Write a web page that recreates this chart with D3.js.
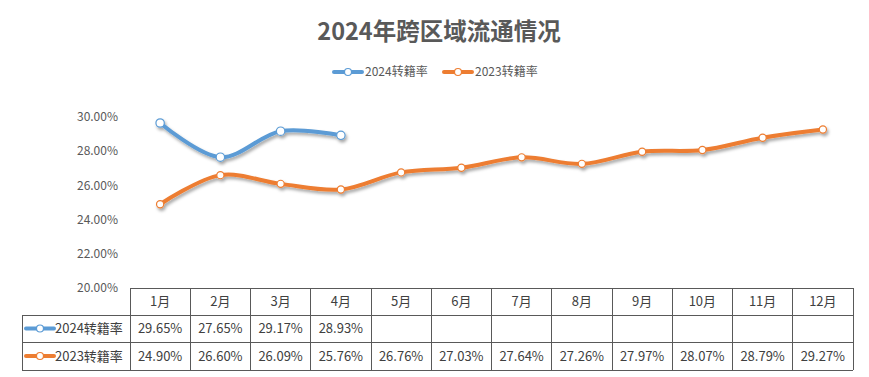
<!DOCTYPE html>
<html>
<head>
<meta charset="utf-8">
<script src="https://cdn.jsdelivr.net/npm/d3@7/dist/d3.min.js"></script>
<style>
  body { margin: 0; background: #fff; }
  svg { display: block; font-family: "Noto Sans CJK SC", "Microsoft YaHei", sans-serif; }
</style>
</head>
<body>
<div class="container"></div>
<script>
const WIDTH = 869;
const HEIGHT = 377;

var months = ['1月', '2月', '3月', '4月', '5月', '6月', '7月', '8月', '9月', '10月', '11月', '12月'];
var rate2024 = [29.65, 27.65, 29.17, 28.93];
var rate2023 = [24.90, 26.60, 26.09, 25.76, 26.76, 27.03, 27.64, 27.26, 27.97, 28.07, 28.79, 29.27];
var yTicks = [20, 22, 24, 26, 28, 30];
var seriesNames = ['2024转籍率', '2023转籍率'];
var seriesColors = ['#5B9BD5', '#ED7D31'];

var svg = d3.select('.container').append('svg')
  .attr('width', WIDTH)
  .attr('height', HEIGHT);

var defs = svg.append('defs');
var shadow = defs.append('filter').attr('id', 'shadow')
  .attr('x', '-10%').attr('y', '-30%').attr('width', '130%').attr('height', '180%');
shadow.append('feDropShadow')
  .attr('dx', 1.5).attr('dy', 2.5).attr('stdDeviation', 1.8)
  .attr('flood-color', '#000').attr('flood-opacity', 0.35);

// title
svg.append('text')
  .attr('x', 439).attr('y', 40)
  .attr('text-anchor', 'middle')
  .attr('font-size', 23.5).attr('font-weight', 'bold')
  .attr('fill', '#595959')
  .text('2024年跨区域流通情况');

var x = d3.scaleBand().domain(months).range([130, 853]);
var y = d3.scaleLinear().domain([20, 30]).range([288, 117]);

// y axis labels
svg.append('g').selectAll('text')
  .data(yTicks)
  .enter().append('text')
  .attr('x', 118)
  .attr('y', function (d) { return y(d); })
  .attr('dy', '0.35em')
  .attr('text-anchor', 'end')
  .attr('font-size', 12)
  .attr('fill', '#595959')
  .text(function (d) { return d.toFixed(2) + '%'; });

// legend
var legendX = [334, 444];
seriesNames.forEach(function (name, i) {
  var g = svg.append('g').attr('transform', 'translate(' + legendX[i] + ',72)');
  g.append('line').attr('x1', 0).attr('x2', 28).attr('y1', 0).attr('y2', 0)
    .attr('stroke', seriesColors[i]).attr('stroke-width', 4).attr('stroke-linecap', 'round');
  g.append('circle').attr('cx', 14).attr('cy', 0).attr('r', 3.5)
    .attr('fill', '#fff').attr('stroke', seriesColors[i]).attr('stroke-width', 1.2);
  g.append('text').attr('x', 31).attr('y', 0).attr('dy', '0.35em')
    .attr('font-size', 12).attr('fill', '#595959').text(name);
});

// lines
var cx = function (d, i) { return x(months[i]) + x.bandwidth() / 2; };
var line = d3.line()
  .x(cx)
  .y(function (d) { return y(d); })
  .curve(d3.curveCatmullRom.alpha(0.5));

[rate2023, rate2024].forEach(function (data) {
  var idx = data === rate2024 ? 0 : 1;
  var g = svg.append('g').attr('filter', 'url(#shadow)');
  g.append('path')
    .attr('d', line(data))
    .attr('fill', 'none')
    .attr('stroke', seriesColors[idx])
    .attr('stroke-width', 4)
    .attr('stroke-linecap', 'round');
  g.selectAll('circle')
    .data(data)
    .enter().append('circle')
    .attr('cx', cx)
    .attr('cy', function (d) { return y(d); })
    .attr('r', idx === 0 ? 4.2 : 3.6)
    .attr('fill', '#fff')
    .attr('stroke', seriesColors[idx])
    .attr('stroke-width', 1.2);
});

// data table
var rowY = [288, 315, 342, 370];
var tbl = svg.append('g')
  .attr('stroke', '#595959').attr('stroke-width', 1).attr('shape-rendering', 'crispEdges');

tbl.append('line').attr('x1', 130).attr('x2', 853).attr('y1', rowY[0]).attr('y2', rowY[0]);
[1, 2, 3].forEach(function (r) {
  tbl.append('line').attr('x1', 22).attr('x2', 853).attr('y1', rowY[r]).attr('y2', rowY[r]);
});
tbl.append('line').attr('x1', 22).attr('x2', 22).attr('y1', rowY[1]).attr('y2', rowY[3]);
months.forEach(function (m) {
  tbl.append('line').attr('x1', x(m)).attr('x2', x(m)).attr('y1', rowY[0]).attr('y2', rowY[3]);
});
tbl.append('line').attr('x1', 853).attr('x2', 853).attr('y1', rowY[0]).attr('y2', rowY[3]);

var txt = svg.append('g').attr('font-size', 13).attr('fill', '#404040').attr('text-anchor', 'middle');
months.forEach(function (m) {
  txt.append('text').attr('x', x(m) + x.bandwidth() / 2).attr('y', (rowY[0] + rowY[1]) / 2)
    .attr('dy', '0.35em').text(m);
});
[rate2024, rate2023].forEach(function (data, r) {
  var cy = (rowY[r + 1] + rowY[r + 2]) / 2;
  data.forEach(function (v, i) {
    txt.append('text').attr('x', x(months[i]) + x.bandwidth() / 2).attr('y', cy)
      .attr('dy', '0.35em').text(v.toFixed(2) + '%');
  });
  var g = svg.append('g').attr('transform', 'translate(26,' + cy + ')');
  g.append('line').attr('x1', 0).attr('x2', 28).attr('y1', 0).attr('y2', 0)
    .attr('stroke', seriesColors[r]).attr('stroke-width', 4).attr('stroke-linecap', 'round');
  g.append('circle').attr('cx', 14).attr('cy', 0).attr('r', 3.5)
    .attr('fill', '#fff').attr('stroke', seriesColors[r]).attr('stroke-width', 1.2);
  g.append('text').attr('x', 29).attr('y', 0).attr('dy', '0.35em')
    .attr('font-size', 13).attr('fill', '#404040').text(seriesNames[r]);
});
</script>
</body>
</html>
